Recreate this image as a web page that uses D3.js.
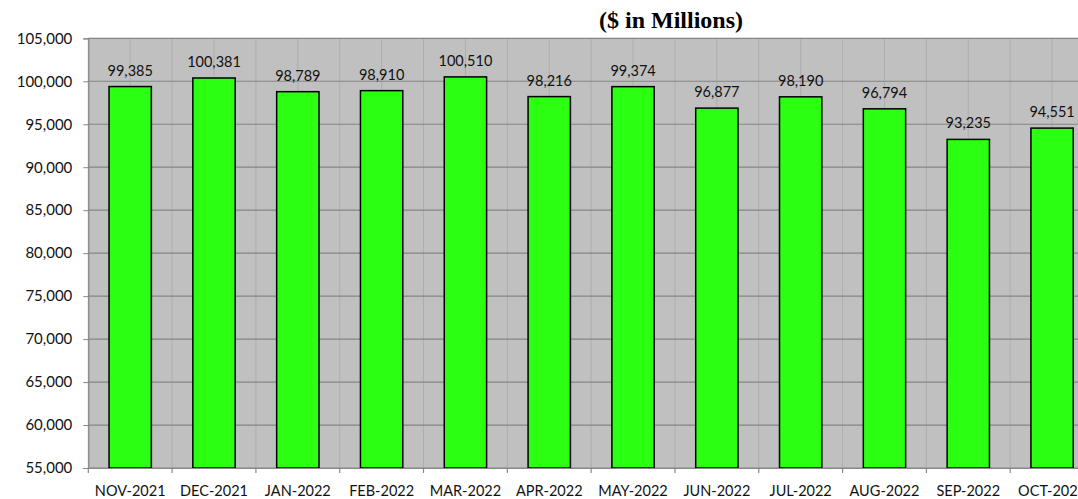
<!DOCTYPE html>
<html><head><meta charset="utf-8">
<script src="https://cdn.jsdelivr.net/npm/d3@7"></script>
<style>body{margin:0;background:#fff;}svg{display:block;}</style>
</head><body>
<svg id="c" width="1078" height="499"></svg>
<script>
const categories = ["NOV-2021","DEC-2021","JAN-2022","FEB-2022","MAR-2022","APR-2022","MAY-2022","JUN-2022","JUL-2022","AUG-2022","SEP-2022","OCT-2022"];
const values = [99385,100381,98789,98910,100510,98216,99374,96877,98190,96794,93235,94551];
const yTicks = [55000,60000,65000,70000,75000,80000,85000,90000,95000,100000,105000];
const title = "($ in Millions)";

(function(){
const svg = d3.select("#c");
const pL = 88.3, pR = 1094, pT = 38.3, pB = 468;
const x = d3.scaleBand().domain(categories).range([pL, pR]).paddingInner(0).paddingOuter(0);
const y = d3.scaleLinear().domain([55000,105000]).range([pB, pT]);
const fmt = d3.format(",");
const font = "Lato, 'Open Sans', sans-serif";

svg.append("rect").attr("x", pL).attr("y", pT).attr("width", pR-pL).attr("height", pB-pT).attr("fill", "#c0c0c0");

const vg = svg.append("g");
categories.forEach(c => {
  [x(c), x(c) + x.bandwidth()/2].forEach(px => {
    vg.append("line").attr("x1", px).attr("x2", px).attr("y1", pT).attr("y2", pB)
      .attr("stroke", "#adadad").attr("stroke-width", 1);
  });
});
yTicks.forEach(t => {
  svg.append("line").attr("x1", pL).attr("x2", pR).attr("y1", y(t)).attr("y2", y(t))
    .attr("stroke", "#858585").attr("stroke-width", 1.2);
});

const bw = x.bandwidth() * 0.505;
svg.append("g").selectAll("rect").data(values).join("rect")
  .attr("x", (d,i) => x(categories[i]) + x.bandwidth()/2 - bw/2)
  .attr("y", d => y(d))
  .attr("width", bw)
  .attr("height", d => pB - y(d))
  .attr("fill", "#2bff12").attr("stroke", "#000").attr("stroke-width", 1.5);

svg.append("g").selectAll("text").data(values).join("text")
  .attr("x", (d,i) => x(categories[i]) + x.bandwidth()/2)
  .attr("y", d => y(d) - 11)
  .attr("text-anchor", "middle")
  .attr("font-family", font).attr("font-size", 14.5).attr("fill", "#111")
  .text(d => fmt(d));

const ya = svg.append("g").attr("transform", `translate(${pL},0)`)
  .call(d3.axisLeft(y).tickValues(yTicks).tickFormat(fmt).tickSize(5).tickPadding(11));
ya.select(".domain").attr("stroke", "#888").attr("stroke-width", 1.2);
ya.selectAll(".tick line").attr("stroke", "#888");
ya.selectAll("text").attr("font-family", font).attr("font-size", 15).attr("fill", "#111");

const xa = svg.append("g").attr("transform", `translate(0,${pB})`)
  .call(d3.axisBottom(x).tickSize(0).tickPadding(18));
xa.select(".domain").attr("stroke", "#888").attr("stroke-width", 1.2);
xa.selectAll("text").attr("font-family", font).attr("font-size", 14.5).attr("fill", "#111");
const bounds = categories.map(c => x(c)).concat([pR]);
svg.append("g").selectAll("line").data(bounds).join("line")
  .attr("x1", d => d).attr("x2", d => d).attr("y1", pB).attr("y2", pB + 5)
  .attr("stroke", "#888").attr("stroke-width", 1.2);

svg.append("text").attr("x", 671).attr("y", 28).attr("text-anchor", "middle")
  .attr("font-family", "'Liberation Serif', 'Times New Roman', serif")
  .attr("font-weight", "bold").attr("font-size", 24).attr("fill", "#000")
  .text(title);
})();
</script>
</body></html>
